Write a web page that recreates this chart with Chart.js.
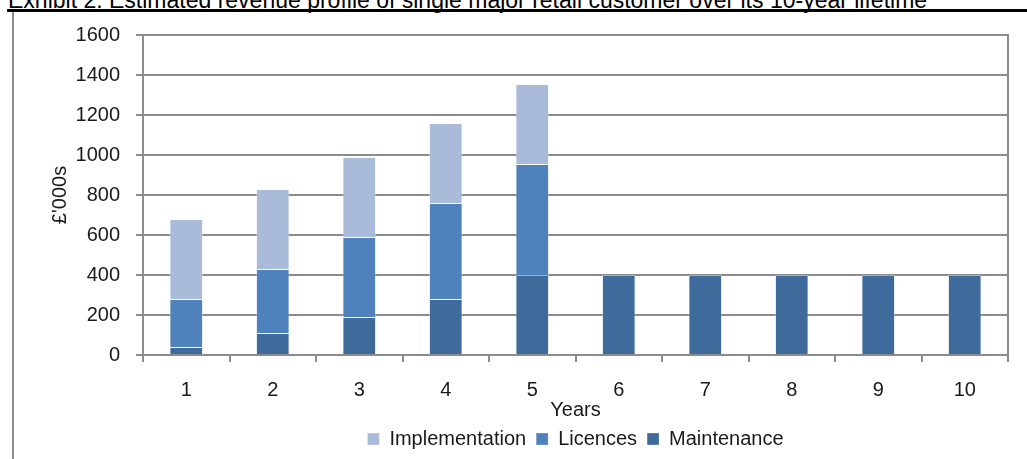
<!DOCTYPE html>
<html>
<head>
<meta charset="utf-8">
<script src="https://cdn.jsdelivr.net/npm/chart.js@4/dist/chart.umd.min.js"></script>
<style>
  html, body { margin: 0; padding: 0; background: #fff; overflow: hidden; }
  #wrap { position: relative; width: 1027px; height: 459px; }
  #title {
    position: absolute; top: -11.5px; left: 8px;
    font: 23px "Liberation Sans", Arial, sans-serif; line-height: 23px;
    color: #000; white-space: nowrap;
  }
  #rule { position: absolute; top: 9px; left: 7px; right: 0; height: 3px; background: #000; }
  #side { position: absolute; top: 12px; left: 12px; width: 2px; bottom: 0; background: #8c8c8c; }
  #myChart { position: absolute; left: 0; top: 0; }
</style>
</head>
<body>
<div id="wrap">
  <div id="title">Exhibit 2: Estimated revenue profile of single major retail customer over its 10-year lifetime</div>
  <div id="rule"></div>
  <div id="side"></div>
  <canvas id="myChart" width="1027" height="459"></canvas>
</div>
<script>
const years = ["1", "2", "3", "4", "5", "6", "7", "8", "9", "10"];
const implementation = [400, 400, 400, 400, 400, 0, 0, 0, 0, 0];
const licences = [240, 320, 400, 480, 555, 0, 0, 0, 0, 0];
const maintenance = [40, 110, 190, 280, 400, 400, 400, 400, 400, 400];

const gridColor = "#8c8c8c";
const font = { family: "'Liberation Sans', Arial, sans-serif", size: 20 };

// right edge of the plot frame
const frameRight = {
  id: "frameRight",
  afterDraw(chart) {
    const { ctx, chartArea } = chart;
    ctx.save();
    ctx.strokeStyle = gridColor;
    ctx.lineWidth = 2;
    ctx.beginPath();
    ctx.moveTo(chartArea.right, chartArea.top - 1);
    ctx.lineTo(chartArea.right, chartArea.bottom + 7);
    ctx.stroke();
    ctx.restore();
  },
};

const data = {
  labels: years,
  datasets: [
    { label: "Maintenance", data: maintenance, backgroundColor: "#3f6a9c" },
    { label: "Licences", data: licences, backgroundColor: "#4f81bd" },
    { label: "Implementation", data: implementation, backgroundColor: "#aabad9" },
  ],
};
data.datasets.forEach((d) => {
  d.borderColor = "rgba(255,255,255,0.3)";
  d.borderWidth = 1;
  d.barPercentage = 0.39;
  d.categoryPercentage = 1;
});

const config = {
  type: "bar",
  data: data,
  options: {
    responsive: false,
    animation: false,
    layout: {
      padding: { top: 35, right: 19, left: 0, bottom: 0 },
    },
    scales: {
      x: {
        stacked: true,
        afterFit(scale) { scale.height = 64; },
        ticks: { color: "#1a1a1a", font: font, padding: 16 },
        grid: {
          drawOnChartArea: false,
          tickLength: 7,
          color: gridColor,
          lineWidth: 2,
        },
        border: { display: true, color: gridColor, width: 2 },
        title: {
          display: true,
          text: "Years",
          color: "#1a1a1a",
          font: font,
          padding: { top: 0, bottom: -3 },
        },
      },
      y: {
        stacked: true,
        min: 0,
        max: 1600,
        afterFit(scale) { scale.width = 143; },
        ticks: {
          stepSize: 200,
          color: "#1a1a1a",
          font: font,
          padding: 16,
          callback: (v) => String(v),
        },
        grid: { color: gridColor, lineWidth: 2, tickLength: 7 },
        border: { display: true, color: gridColor, width: 2 },
        title: {
          display: true,
          text: "£'000s",
          color: "#1a1a1a",
          font: font,
          padding: { top: 48, bottom: 0 },
        },
      },
    },
    plugins: {
      legend: {
        position: "bottom",
        fullSize: false,
        reverse: true,
        labels: {
          color: "#1a1a1a",
          font: font,
          boxWidth: 12,
          boxHeight: 12,
          padding: 10,
        },
      },
      tooltip: { enabled: false },
    },
  },
  plugins: [frameRight],
};

const myChart = new Chart(document.getElementById("myChart"), config);
</script>
</body>
</html>
